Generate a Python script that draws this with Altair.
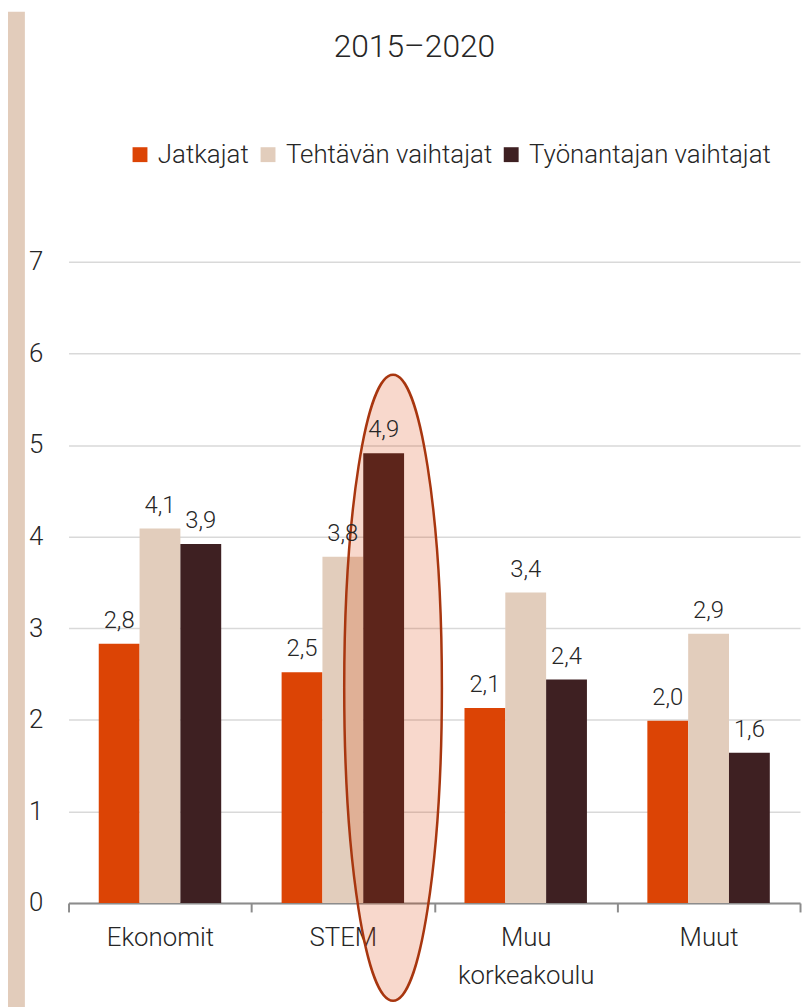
import altair as alt
import pandas as pd

# ---- data ----
categories = ["Ekonomit", "STEM", "Muu korkeakoulu", "Muut"]
series = ["Jatkajat", "Tehtävän vaihtajat", "Työnantajan vaihtajat"]
jatkajat = [2.83, 2.52, 2.13, 1.99]
tehtavan_vaihtajat = [4.09, 3.78, 3.39, 2.94]
tyonantajan_vaihtajat = [3.92, 4.91, 2.44, 1.64]
y_ticks = [0, 1, 2, 3, 4, 5, 6, 7]
colors = ["#DC4405", "#E2CDBC", "#3E2022"]

highlight_category = "STEM"
highlight_series = "Työnantajan vaihtajat"
highlight_center = 2.35

FONT = "Roboto"
TXT = "#262626"

rows = []
for s, vals in zip(series, [jatkajat, tehtavan_vaihtajat, tyonantajan_vaihtajat]):
    for c, v in zip(categories, vals):
        rows.append({"cat": c, "series": s, "value": v})
df = pd.DataFrame(rows)

hl = pd.DataFrame([{"cat": highlight_category, "series": highlight_series, "value": highlight_center}])
strip_df = pd.DataFrame({"k": [0]})

x_enc = alt.X(
    "cat:N",
    sort=categories,
    scale=alt.Scale(paddingInner=0, paddingOuter=0),
    axis=alt.Axis(
        title=None, labelAngle=0, tickBand="extent", grid=False,
        domainColor="#8C8C8C", domainWidth=2, tickColor="#8C8C8C", tickWidth=2, tickSize=9,
        labelPadding=13, labelFontSize=26, labelFont=FONT, labelFontWeight=300, labelColor=TXT,
        labelExpr="datum.label == 'Muu korkeakoulu' ? ['Muu', 'korkeakoulu'] : datum.label",
        labelLineHeight=38, labelLimit=300,
    ),
)
xo_scale = alt.Scale(paddingInner=0, paddingOuter=0.74)
xo_enc = alt.XOffset("series:N", sort=series, scale=xo_scale)
y_enc = alt.Y(
    "value:Q",
    scale=alt.Scale(domain=[0, 7], nice=False),
    axis=alt.Axis(
        title=None, values=y_ticks, format="d", domain=False, ticks=False, tickSize=0, labelPadding=26,
        grid=True, gridColor="#D9D9D9", gridWidth=1.5,
        labelFontSize=26, labelFont=FONT, labelFontWeight=300, labelColor=TXT,
    ),
)

strip = alt.Chart(strip_df).mark_rect(color="#E2CCBB").encode(
    x=alt.value(-61), x2=alt.value(-44), y=alt.value(-252), y2=alt.value(760)
)

bars = alt.Chart(df).mark_bar().encode(
    x=x_enc,
    xOffset=xo_enc,
    y=y_enc,
    color=alt.Color(
        "series:N", sort=series,
        scale=alt.Scale(domain=series, range=colors),
        legend=alt.Legend(
            title=None, orient="none", legendX=59, legendY=-121, direction="horizontal",
            symbolType="square", symbolSize=225, symbolStrokeWidth=0, padding=0,
            labelFontSize=26, labelFont=FONT, labelFontWeight=300, labelColor=TXT,
            labelOffset=5, columnPadding=6, labelLimit=400,
        ),
    ),
)

ellipse_path = (
    "M0.03,-1 C0.116,-1 0.186,-0.552 0.186,0 C0.186,0.552 0.116,1 0.03,1 "
    "C-0.056,1 -0.126,0.552 -0.126,0 C-0.126,-0.552 -0.056,-1 0.03,-1 Z"
)
ellipse = alt.Chart(hl).mark_point(
    shape=ellipse_path, size=398000, filled=True,
    fill="#DC3A00", fillOpacity=0.2, stroke="#A8360F", strokeWidth=2.5, strokeOpacity=1, opacity=1,
).encode(x=alt.X("cat:N", sort=categories), xOffset=alt.XOffset("series:N", sort=series, scale=xo_scale),
         y=alt.Y("value:Q"))

labels = alt.Chart(df).transform_calculate(
    label="replace(format(datum.value, '.1f'), '.', ',')"
).mark_text(
    baseline="alphabetic", dy=-16, fontSize=24, font=FONT, fontWeight=300, color=TXT
).encode(x=alt.X("cat:N", sort=categories), xOffset=alt.XOffset("series:N", sort=series, scale=xo_scale),
         y=alt.Y("value:Q"), text="label:N")

chart = alt.layer(strip, bars, ellipse, labels).properties(
    width=737,
    height=646,
    padding={"left": 61, "top": 252, "right": 2, "bottom": 101},
    autosize=alt.AutoSizeParams(type="none"),
    title=alt.Title("2015–2020", fontSize=32, font=FONT, fontWeight=300, color=TXT,
                    anchor="middle", dx=-20, offset=0, dy=53),
    background="white",
).configure_view(stroke=None)

chart.save("out.html", embed_options={"renderer": "svg", "actions": False})
